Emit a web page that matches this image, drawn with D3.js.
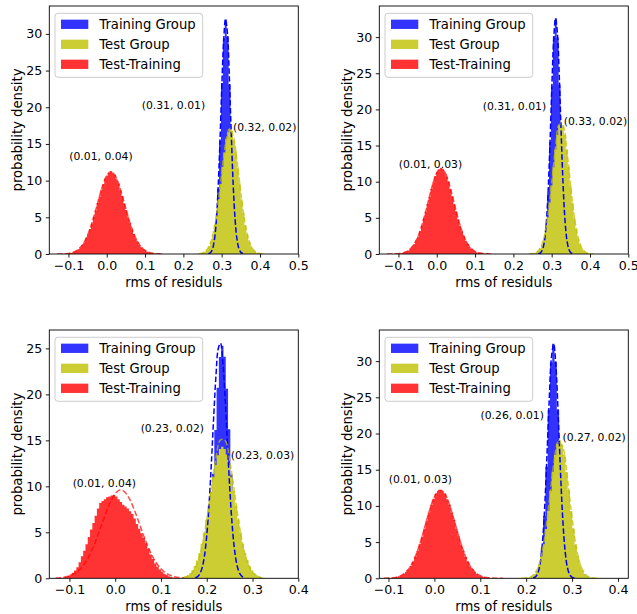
<!DOCTYPE html>
<html><head><meta charset="utf-8">
<script src="https://cdn.jsdelivr.net/npm/d3@7"></script>
<style>body{margin:0;background:#fff} text{font-family:"DejaVu Sans",sans-serif;fill:#000}</style>
</head><body><svg id="c" width="637" height="614"></svg>
<script>
// ---------- data ----------
const seriesNames = ["Training Group", "Test Group", "Test-Training"];
const binWidth = 0.005;
const xLabel = "rms of residuls";
const yLabel = "probability density";

// Panel 1 (top-left)
const p1TrainStart = 0.2631;
const p1TrainHist = [0.05,0.19,0.62,1.8,4.3,8.9,15.4,23.3,29.4,32.0,29.6,23.1,15.6,8.7,4.3,1.75,0.6,0.2,0.05];
const p1TestStart = 0.2345;
const p1TestHist = [0.02,0.05,0.10,0.19,0.35,0.63,1.04,1.72,2.63,3.95,5.50,7.50,9.55,11.9,13.8,15.7,16.6,17.1,16.8,15.5,14.0,11.8,9.65,7.42,5.58,3.90,2.67,1.70,1.06,0.61,0.36,0.18,0.10,0.05,0.02];
const p1DiffStart = -0.1315;
const p1DiffHist = [0.00,0.01,0.01,0.02,0.04,0.06,0.09,0.15,0.22,0.33,0.45,0.66,0.89,1.23,1.60,2.13,2.69,3.42,4.15,5.06,5.93,6.95,7.80,8.80,9.52,10.30,10.70,11.05,11.25,11.10,10.80,10.20,9.60,8.70,7.90,6.88,6.00,5.00,4.20,3.38,2.72,2.09,1.63,1.20,0.91,0.64,0.47,0.31,0.22,0.14,0.10,0.06,0.04,0.02,0.01,0.01,0.00];
const p1TrainFitStart = 0.265, p1TrainFitStep = 0.005;
const p1TrainFit = [0.04,0.16,0.53,1.59,3.9,8.2,14.6,22.3,28.9,32.0,30.1,24.1,16.4,9.5,4.7,1.98,0.71,0.22,0.06];
const p1TestFitStart = 0.24, p1TestFitStep = 0.01;
const p1TestFit = [0.03,0.145,0.50,1.42,3.39,6.67,10.96,14.98,17.03,16.13,12.69,8.31,4.52,2.05,0.77,0.24,0.06,0.013];
const p1DiffFitStart = -0.13, p1DiffFitStep = 0.01;
const p1DiffFit = [0.004,0.013,0.035,0.086,0.20,0.43,0.84,1.53,2.58,4.01,5.77,7.66,9.41,10.68,11.2,10.84,9.71,8.03,6.15,4.35,2.84,1.71,0.96,0.49,0.23,0.10,0.04,0.016,0.006];
const p1Labels = ["(0.31, 0.01)", "(0.32, 0.02)", "(0.01, 0.04)"];
const p1LabelX = [0.0913, 0.3296, -0.0978];
const p1LabelY = [19.8, 16.8, 12.8];

// Panel 2 (top-right)
const p2TrainStart = 0.2631;
const p2TrainHist = [0.04,0.17,0.55,1.6,4.1,8.5,15.5,23.2,30.1,32.6,29.9,23.4,15.3,8.7,4.0,1.65,0.52,0.16,0.04];
const p2TestStart = 0.2369;
const p2TestHist = [0.01,0.02,0.05,0.11,0.21,0.41,0.76,1.32,2.17,3.40,5.04,7.10,9.48,12.0,14.44,16.47,17.82,18.3,17.80,16.50,14.40,12.05,9.45,7.12,5.00,3.42,2.15,1.33,0.75,0.42,0.21,0.11,0.05,0.02,0.01];
const p2DiffStart = -0.1315;
const p2DiffHist = [0.00,0.005,0.01,0.012,0.02,0.035,0.06,0.09,0.14,0.22,0.34,0.49,0.71,0.99,1.37,1.85,2.43,3.13,3.93,4.95,5.86,6.91,7.90,8.99,9.94,10.80,11.34,11.72,11.85,11.70,11.38,10.70,9.98,8.95,8.00,6.88,5.90,4.82,3.95,3.10,2.45,1.83,1.38,0.98,0.72,0.48,0.34,0.22,0.14,0.09,0.06,0.035,0.02,0.012,0.01,0.005,0.00];
const p2TrainFitStart = 0.265, p2TrainFitStep = 0.005;
const p2TrainFit = [0.03,0.13,0.48,1.43,3.66,7.91,14.46,22.4,29.4,32.56,30.55,24.3,16.3,9.28,4.46,1.83,0.63,0.18,0.045];
const p2TestFitStart = 0.24, p2TestFitStep = 0.01;
const p2TestFit = [0.01,0.055,0.23,0.81,2.30,5.28,9.77,14.7,17.93,17.7,14.17,9.18,4.82,2.05,0.71,0.20,0.045,0.008];
const p2DiffFitStart = -0.13, p2DiffFitStep = 0.01;
const p2DiffFit = [0.002,0.006,0.019,0.052,0.13,0.31,0.66,1.29,2.30,3.77,5.65,7.76,9.75,11.23,11.84,11.43,10.11,8.18,6.07,4.13,2.56,1.45,0.76,0.36,0.16,0.064,0.024,0.008,0.003];
const p2Labels = ["(0.31, 0.01)", "(0.33, 0.02)", "(0.01, 0.03)"];
const p2LabelX = [0.12, 0.3315, -0.0993];
const p2LabelY = [19.85, 17.9, 11.9];

// Panel 3 (bottom-left)
const p3TrainStart = 0.1715;
const p3TrainHist = [0.02,0.06,0.17,0.44,1.03,2.18,4.18,7.24,11.37,16.13,20.71,24.07,25.3,24.1,20.6,16.2,11.3,7.3,4.1,2.2,1.0,0.45,0.17,0.06,0.02];
const p3TestStart = 0.1415;
const p3TestHist = [0.07,0.12,0.21,0.34,0.56,0.88,1.33,1.93,2.74,3.75,4.96,6.36,7.88,9.46,10.98,12.32,13.39,14.07,14.3,14.05,13.45,12.30,11.00,9.50,7.90,6.40,5.00,3.75,2.72,1.95,1.32,0.88,0.55,0.34,0.21,0.12,0.07];
const p3DiffStart = -0.125;
const p3DiffHist = [0.02,0.04,0.08,0.15,0.25,0.40,0.60,0.85,1.2,1.75,2.4,3.0,3.7,4.5,5.3,6.0,6.8,7.6,8.2,8.4,8.6,8.8,8.9,9.0,9.05,8.9,8.6,8.3,8.0,7.8,7.6,7.3,7.0,6.5,5.9,5.4,4.9,4.4,3.8,3.2,2.6,2.1,1.6,1.25,0.95,0.7,0.5,0.35,0.22,0.14,0.08,0.05,0.03,0.01];
const p3TrainFitStart = 0.175, p3TrainFitStep = 0.005;
const p3TrainFit = [0.07,0.19,0.50,1.16,2.45,4.67,8.03,12.44,17.40,21.94,24.93,25.56,23.62,19.69,14.81,10.04,6.14,3.38,1.68,0.75,0.30,0.11];
const p3TestFitStart = 0.15, p3TestFitStep = 0.01;
const p3TestFit = [0.08,0.26,0.71,1.72,3.56,6.35,9.81,13.08,15.06,14.98,12.86,9.53,6.10,3.37,1.61,0.66,0.24,0.07];
const p3DiffFitStart = -0.13, p3DiffFitStep = 0.01;
const p3DiffFit = [0.029,0.063,0.13,0.26,0.48,0.83,1.38,2.15,3.16,4.39,5.76,7.14,8.35,9.21,9.59,9.42,8.74,7.65,6.33,4.93,3.63,2.52,1.66,1.03,0.60,0.33,0.17,0.085,0.04];
const p3Labels = ["(0.23, 0.02)", "(0.23, 0.03)", "(0.01, 0.04)"];
const p3LabelX = [0.0556, 0.2527, -0.093];
const p3LabelY = [15.96, 12.97, 9.98];

// Panel 4 (bottom-right)
const p4TrainStart = 0.2118;
const p4TrainHist = [0.04,0.16,0.56,1.65,4.1,8.6,15.4,23.3,29.8,32.4,29.9,23.2,15.5,8.5,4.1,1.62,0.55,0.17,0.04];
const p4TestStart = 0.1855;
const p4TestHist = [0.005,0.013,0.03,0.07,0.15,0.31,0.60,1.09,1.88,3.06,4.69,6.82,9.34,12.09,14.77,17.04,18.56,19.1,18.50,17.10,14.70,12.15,9.30,6.85,4.65,3.08,1.86,1.10,0.59,0.32,0.15,0.07,0.03,0.013,0.005];
const p4DiffStart = -0.1293;
const p4DiffHist = [0.00,0.003,0.005,0.01,0.015,0.025,0.04,0.07,0.11,0.18,0.28,0.41,0.61,0.88,1.23,1.69,2.26,2.96,3.78,4.73,5.77,6.88,8.00,9.10,10.11,10.98,11.64,12.06,12.2,12.02,11.68,10.92,10.15,9.05,8.05,6.85,5.80,4.70,3.82,2.93,2.28,1.67,1.25,0.87,0.62,0.40,0.28,0.18,0.11,0.07,0.04,0.025,0.015,0.01,0.005,0.003,0.00];
const p4TrainFitStart = 0.215, p4TrainFitStep = 0.005;
const p4TrainFit = [0.05,0.19,0.66,1.90,4.60,9.46,16.5,24.3,30.5,32.35,29.1,22.2,14.35,7.86,3.65,1.43,0.48,0.14,0.03];
const p4TestFitStart = 0.19, p4TestFitStep = 0.01;
const p4TestFit = [0.007,0.044,0.20,0.77,2.30,5.49,10.43,15.74,18.9,18.06,13.72,8.29,3.99,1.52,0.47,0.11,0.02,0.003];
const p4DiffFitStart = -0.11, p4DiffFitStep = 0.01;
const p4DiffFit = [0.01,0.031,0.084,0.21,0.48,0.99,1.88,3.24,5.10,7.29,9.49,11.25,12.14,11.94,10.69,8.72,6.48,4.38,2.69,1.51,0.77,0.36,0.15,0.06,0.02,0.006,0.002];
const p4Labels = ["(0.26, 0.01)", "(0.27, 0.02)", "(0.01, 0.03)"];
const p4LabelX = [0.1005, 0.279, -0.0995];
const p4LabelY = [22.0, 18.96, 13.1];

// axis extents and ticks
const xTicksTop = [-0.1, 0, 0.1, 0.2, 0.3, 0.4, 0.5];
const xTicksBottom = [-0.1, 0, 0.1, 0.2, 0.3, 0.4];
const yTicks30 = [0, 5, 10, 15, 20, 25, 30];
const yTicks25 = [0, 5, 10, 15, 20, 25];
const xDomains = [[-0.15, 0.5], [-0.15, 0.5], [-0.144, 0.4], [-0.12, 0.4225]];
const yDomains = [[0, 33.8], [0, 34.3], [0, 27.0], [0, 34.3]];

// ---------- assemble ----------
const panels = [
  {train:[p1TrainStart,p1TrainHist], test:[p1TestStart,p1TestHist], diff:[p1DiffStart,p1DiffHist],
   fits:[[p1TrainFitStart,p1TrainFitStep,p1TrainFit],[p1TestFitStart,p1TestFitStep,p1TestFit],[p1DiffFitStart,p1DiffFitStep,p1DiffFit]],
   labels:p1Labels, lx:p1LabelX, ly:p1LabelY, xTicks:xTicksTop, yTicks:yTicks30},
  {train:[p2TrainStart,p2TrainHist], test:[p2TestStart,p2TestHist], diff:[p2DiffStart,p2DiffHist],
   fits:[[p2TrainFitStart,p2TrainFitStep,p2TrainFit],[p2TestFitStart,p2TestFitStep,p2TestFit],[p2DiffFitStart,p2DiffFitStep,p2DiffFit]],
   labels:p2Labels, lx:p2LabelX, ly:p2LabelY, xTicks:xTicksTop, yTicks:yTicks30},
  {train:[p3TrainStart,p3TrainHist], test:[p3TestStart,p3TestHist], diff:[p3DiffStart,p3DiffHist],
   fits:[[p3TrainFitStart,p3TrainFitStep,p3TrainFit],[p3TestFitStart,p3TestFitStep,p3TestFit],[p3DiffFitStart,p3DiffFitStep,p3DiffFit]],
   labels:p3Labels, lx:p3LabelX, ly:p3LabelY, xTicks:xTicksBottom, yTicks:yTicks25},
  {train:[p4TrainStart,p4TrainHist], test:[p4TestStart,p4TestHist], diff:[p4DiffStart,p4DiffHist],
   fits:[[p4TrainFitStart,p4TrainFitStep,p4TrainFit],[p4TestFitStart,p4TestFitStep,p4TestFit],[p4DiffFitStart,p4DiffFitStep,p4DiffFit]],
   labels:p4Labels, lx:p4LabelX, ly:p4LabelY, xTicks:xTicksBottom, yTicks:yTicks30}
];

// ---------- drawing ----------
const layout = [
  {x:49.3, y:6, w:249, h:248},
  {x:379.3, y:6, w:249, h:248},
  {x:49.3, y:330, w:249, h:248.3},
  {x:379.3, y:330, w:249, h:248.3}
];
const fillColors = ["#3333ff", "#cccc33", "#ff3333"];
const lineColors = ["#0000ff", "#bfbf00", "#ff0000"];
const fitOpacity = [1, 0.75, 0.7];

const svg = d3.select("#c");

panels.forEach((p, i) => {
  const L = layout[i];
  const g = svg.append("g").attr("transform", `translate(${L.x},${L.y})`);
  const x = d3.scaleLinear().domain(xDomains[i]).range([0, L.w]);
  const y = d3.scaleLinear().domain(yDomains[i]).range([L.h, 0]);

  const clipId = "clip" + i;
  g.append("clipPath").attr("id", clipId).append("rect")
    .attr("width", L.w).attr("height", L.h);
  const plot = g.append("g").attr("clip-path", `url(#${clipId})`);

  const area = d3.area().curve(d3.curveStepAfter)
    .x(d => x(d[0])).y0(y(0)).y1(d => y(d[1]));
  const histPts = (start, vals) => {
    const pts = vals.map((v, k) => [start + k * binWidth, v]);
    pts.push([start + vals.length * binWidth, vals[vals.length - 1]]);
    return pts;
  };
  [p.train, p.test, p.diff].forEach((s, k) => {
    plot.append("path").datum(histPts(s[0], s[1]))
      .attr("d", area).attr("fill", fillColors[k]);
  });

  const line = d3.line().curve(d3.curveCatmullRom)
    .x(d => x(d[0])).y(d => y(d[1]));
  p.fits.forEach((f, k) => {
    const pts = f[2].map((v, j) => [f[0] + j * f[1], v]);
    plot.append("path").datum(pts).attr("d", line)
      .attr("fill", "none").attr("stroke", lineColors[k])
      .attr("stroke-opacity", fitOpacity[k])
      .attr("stroke-width", 1.5).attr("stroke-dasharray", "5.55,2.4");
  });

  // annotations
  p.labels.forEach((t, k) => {
    g.append("text").attr("x", x(p.lx[k])).attr("y", y(p.ly[k]))
      .attr("font-size", 10.8).text(t);
  });

  // axes
  const xa = g.append("g").attr("transform", `translate(0,${L.h})`)
    .call(d3.axisBottom(x).tickValues(p.xTicks).tickFormat(d3.format(".1f"))
      .tickSize(3.5).tickPadding(3.5).tickSizeOuter(0));
  const ya = g.append("g")
    .call(d3.axisLeft(y).tickValues(p.yTicks).tickFormat(d3.format("d"))
      .tickSize(3.5).tickPadding(3.5).tickSizeOuter(0));
  [xa, ya].forEach(a => {
    a.select(".domain").remove();
    a.selectAll("line").attr("stroke", "#000").attr("stroke-width", 0.9);
    a.selectAll("text").attr("font-size", 12.6).attr("font-family", "DejaVu Sans").attr("fill", "#000");
  });
  g.append("rect").attr("width", L.w).attr("height", L.h)
    .attr("fill", "none").attr("stroke", "#000").attr("stroke-width", 0.9);

  g.append("text").attr("x", L.w / 2).attr("y", L.h + 32.5)
    .attr("text-anchor", "middle").attr("font-size", 13.2).text(xLabel);
  g.append("text").attr("transform", `translate(-27.5,${L.h / 2}) rotate(-90)`)
    .attr("text-anchor", "middle").attr("font-size", 13.2).text(yLabel);

  // legend
  const lg = g.append("g").attr("transform", "translate(5.7,7.3)");
  lg.append("rect").attr("width", 147.7).attr("height", 64).attr("rx", 3)
    .attr("fill", "#fff").attr("fill-opacity", 0.8)
    .attr("stroke", "#cccccc").attr("stroke-width", 1);
  seriesNames.forEach((n, k) => {
    const cy = 11 + 20 * k;
    lg.append("rect").attr("x", 6).attr("y", cy - 4.65).attr("width", 27.3).attr("height", 9.3)
      .attr("fill", fillColors[k]);
    lg.append("text").attr("x", 44.3).attr("y", cy + 4.8).attr("font-size", 13.2).text(n);
  });
});
</script>
</body></html>
